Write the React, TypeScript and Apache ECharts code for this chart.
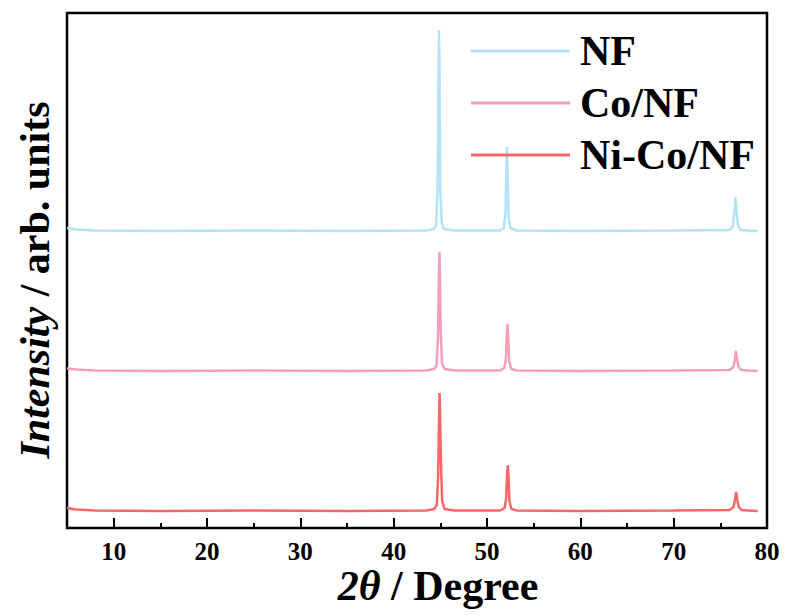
import React, { useEffect, useRef } from "react";
import * as echarts from "echarts";

// XRD patterns, [2θ (degree), intensity above the sample's own baseline]
const nfPattern: [number, number][] = [
  [5, 3], [6, 1.5], [8, 0.5], [15, 0], [25, 0.5], [35, 0], [43.5, 0.5],
  [44.3, 2], [44.55, 6], [44.7, 40], [44.8, 150], [44.86, 201], [44.92, 150],
  [45.0, 40], [45.15, 8], [45.4, 2], [46.5, 0.5],
  [51.4, 0.5], [51.8, 3], [51.98, 18], [52.08, 65], [52.14, 84], [52.2, 62],
  [52.3, 16], [52.5, 3], [53.2, 0.5], [60, 0], [70, 0.5],
  [76.0, 1], [76.35, 5], [76.5, 18], [76.62, 34], [76.74, 20], [76.9, 5],
  [77.2, 1], [78, 0.5], [79, 0],
];

const coNfPattern: [number, number][] = [
  [5, 2.5], [6, 1.5], [8, 0.5], [15, 0], [25, 0.5], [35, 0], [43.5, 0.5],
  [44.35, 2], [44.6, 6], [44.75, 35], [44.84, 90], [44.9, 119], [44.96, 95],
  [45.04, 40], [45.18, 8], [45.45, 2], [46.5, 0.5],
  [51.4, 0.5], [51.85, 3], [52.02, 12], [52.12, 36], [52.2, 47], [52.27, 36],
  [52.37, 10], [52.6, 2], [53.2, 0.5], [60, 0], [70, 0.5],
  [76.0, 1], [76.4, 4], [76.55, 11], [76.67, 20], [76.79, 12], [76.95, 4],
  [77.25, 1], [78, 0.5], [79, 0],
];

const niCoNfPattern: [number, number][] = [
  [5, 3], [6, 1.5], [8, 0.5], [15, 0], [25, 0.5], [35, 0], [43.5, 0.5],
  [44.35, 2], [44.62, 6], [44.77, 35], [44.86, 92], [44.92, 118], [44.98, 96],
  [45.04, 60], [45.1, 38], [45.2, 10], [45.45, 2], [46.5, 0.5],
  [51.4, 0.5], [51.88, 3], [52.05, 12], [52.15, 36], [52.23, 46], [52.3, 36],
  [52.4, 10], [52.62, 2], [53.2, 0.5], [60, 0], [70, 0.5],
  [76.0, 1], [76.42, 4], [76.57, 11], [76.7, 19], [76.82, 11], [76.98, 4],
  [77.28, 1], [78, 0.5], [79, 0],
];

const sampleNames = ["NF", "Co/NF", "Ni-Co/NF"];
const sampleColors = ["#b2e3f7", "#f3a0b7", "#f76767"];
const baselineOffsets = [297, 157, 17];
const patterns = [nfPattern, coNfPattern, niCoNfPattern];

const majorTicks = [10, 20, 30, 40, 50, 60, 70, 80];
const minorTicks = [15, 25, 35, 45, 55, 65, 75];

const FONT = "'Liberation Serif', 'Times New Roman', serif";
const NBSP = "\u00a0";

export default function App() {
  const ref = useRef<HTMLDivElement>(null);

  useEffect(() => {
    if (!ref.current) return;
    const chart = echarts.init(ref.current, undefined, { renderer: "svg" });

    const series = patterns.map((pts, i) => ({
      name: sampleNames[i],
      type: "line",
      xAxisIndex: 0,
      symbol: "none",
      data: pts.map(([x, y]) => [x, y + baselineOffsets[i]]),
      lineStyle: { color: sampleColors[i], width: 2.5 },
      itemStyle: { color: sampleColors[i] },
      z: 3 - i,
    }));

    const titleRich = {
      i: { fontFamily: FONT, fontWeight: "bold", fontStyle: "italic", fontSize: 42, fill: "#000" },
      n: { fontFamily: FONT, fontWeight: "bold", fontSize: 42, fill: "#000" },
    };

    chart.setOption({
      animation: false,
      backgroundColor: "#fff",
      grid: {
        left: 67,
        right: 18,
        top: 13,
        bottom: 87,
        show: true,
        borderColor: "#000",
        borderWidth: 2.5,
        backgroundColor: "transparent",
      },
      legend: {
        orient: "vertical",
        left: 471,
        top: 29,
        padding: 0,
        itemWidth: 99,
        itemHeight: 14,
        itemGap: 8,
        icon: "path://M0,6 L99,6 L99,9 L0,9 Z",
        data: sampleNames,
        textStyle: {
          fontFamily: FONT,
          fontWeight: "bold",
          fontSize: 42,
          color: "#000",
          lineHeight: 44,
          padding: [0, 0, 0, 5],
        },
      },
      xAxis: [
        {
          type: "value",
          position: "bottom",
          min: 5,
          max: 80,
          splitLine: { show: false },
          axisLine: { show: false },
          axisTick: {
            inside: true,
            length: 10,
            lineStyle: { color: "#000", width: 2 },
            customValues: majorTicks,
          },
          axisLabel: {
            customValues: majorTicks,
            margin: 11,
            color: "#000",
            fontFamily: FONT,
            fontWeight: "bold",
            fontSize: 25,
          },
        },
        {
          type: "value",
          position: "bottom",
          min: 5,
          max: 80,
          splitLine: { show: false },
          axisLine: { show: false },
          axisTick: {
            inside: true,
            length: 5,
            lineStyle: { color: "#000", width: 2 },
            customValues: minorTicks,
          },
          axisLabel: { show: false },
        },
      ],
      yAxis: {
        type: "value",
        min: 0,
        max: 515,
        axisLine: { show: false },
        axisTick: { show: false },
        axisLabel: { show: false },
        splitLine: { show: false },
      },
      graphic: [
        {
          type: "text",
          x: 438,
          y: 586,
          style: {
            text: `{i|2θ}{n|${NBSP}/${NBSP}Degree}`,
            align: "center",
            verticalAlign: "middle",
            rich: titleRich,
          },
        },
        {
          type: "text",
          x: 35,
          y: 280,
          rotation: Math.PI / 2,
          style: {
            text: `{i|Intensity}{n|${NBSP}/${NBSP}arb.${NBSP}units}`,
            align: "center",
            verticalAlign: "middle",
            rich: titleRich,
          },
        },
      ],
      series,
    });

    return () => chart.dispose();
  }, []);

  return <div ref={ref} style={{ width: 785, height: 615, position: "absolute", left: 0, top: 0 }} />;
}
